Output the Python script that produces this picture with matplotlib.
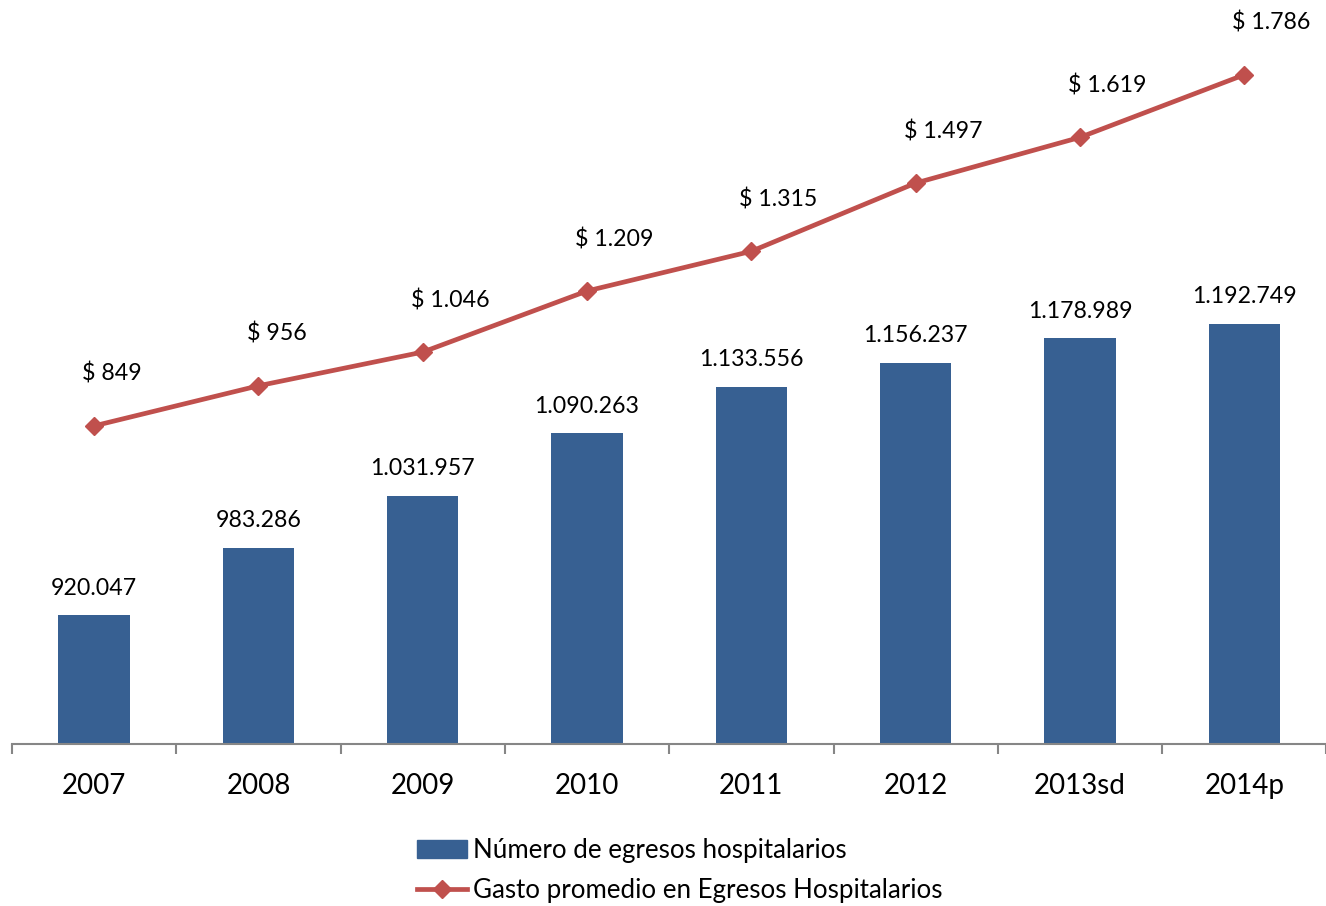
import matplotlib
matplotlib.use('Agg')
import matplotlib.pyplot as plt
from matplotlib.lines import Line2D
from matplotlib.patches import Patch

years = ['2007', '2008', '2009', '2010', '2011', '2012', '2013sd', '2014p']
egresos = [920047, 983286, 1031957, 1090263, 1133556, 1156237, 1178989, 1192749]
gasto = [849, 956, 1046, 1209, 1315, 1497, 1619, 1786]
legend_labels = ['Número de egresos hospitalarios',
                 'Gasto promedio en Egresos Hospitalarios']

BAR_COLOR = '#376092'
LINE_COLOR = '#C0504D'
AXIS_COLOR = '#868686'


def miles(v):
    return f"{v:,}".replace(',', '.')


plt.rcParams['font.family'] = ['Lato', 'DejaVu Sans']
W, H = 1326, 906
fig = plt.figure(figsize=(W / 100, H / 100), dpi=100)
ax = fig.add_axes([12 / W, 162 / H, 1314.4 / W, 749.4 / H])

x = list(range(len(years)))
ax.bar(x, egresos, width=0.435, color=BAR_COLOR, zorder=2)
ax.set_ylim(800000, 1500000)
ax.set_xlim(-0.5, len(years) - 0.5)
for sp in ['top', 'right', 'left']:
    ax.spines[sp].set_visible(False)
ax.spines['bottom'].set_color(AXIS_COLOR)
ax.spines['bottom'].set_linewidth(1.5)
ax.set_yticks([])
ax.set_xticks(x)
ax.set_xticklabels(years, fontsize=20)
ax.tick_params(axis='x', which='major', length=0, pad=21)
ax.set_xticks([i - 0.5 for i in range(len(years) + 1)], minor=True)
ax.tick_params(axis='x', which='minor', length=7.2, width=1.5, color=AXIS_COLOR)

for i, v in zip(x, egresos):
    ax.annotate(miles(v), (i, v), xytext=(0, 19.5), textcoords='offset points',
                ha='center', va='center', fontsize=16.7)

ax2 = ax.twinx()
ax2.set_ylim(0, 2000)
for sp in ax2.spines.values():
    sp.set_visible(False)
ax2.set_yticks([])
ax2.plot(x, gasto, color=LINE_COLOR, lw=3.4, marker='D', ms=9.5, zorder=3)
for i, v in zip(x, gasto):
    ax2.annotate(f"$ {miles(v)}", (i, v), xytext=(-8.6, 37.4), textcoords='offset points',
                 ha='left', va='center', fontsize=16.7)

handles = [Patch(color=BAR_COLOR),
           Line2D([], [], color=LINE_COLOR, lw=3.4, marker='D', ms=9.5)]
fig.legend(handles, legend_labels, loc='upper left', bbox_to_anchor=(417 / W, 1 - 838 / H),
           frameon=False, fontsize=18.6, handlelength=1.94, handletextpad=0.23,
           labelspacing=0.58, borderpad=0, borderaxespad=0)

fig.savefig('out.png', dpi=100)
